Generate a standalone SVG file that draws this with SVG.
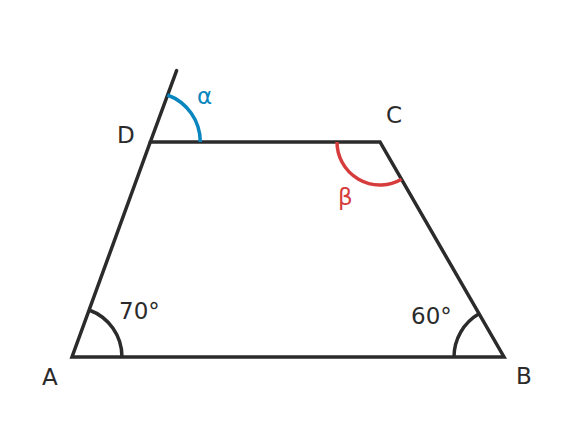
<svg xmlns="http://www.w3.org/2000/svg" width="576" height="430" viewBox="0 0 576 430">
<style>
.edge{fill:none;stroke:#2b2b2b;stroke-width:3.5;stroke-linecap:round;stroke-linejoin:miter}
.arc{fill:none;stroke-width:3.5}
.lbl{font-family:"DejaVu Sans",sans-serif;font-size:23px;fill:#2b2b2b}
</style>
<rect width="576" height="430" fill="#ffffff"/>
<g id="connectors">
<path class="edge" d="M72,357 L504,357 L380,142 L150.3,142 Z"/>
<path class="edge" d="M150.3,142 L176.6,70.6"/>
</g>
<g id="arcs">
<path class="arc" stroke="#2b2b2b" d="M122,357 A50,50 0 0 0 89.1,310"/>
<path class="arc" stroke="#2b2b2b" d="M454,357 A50,50 0 0 1 479,313.7"/>
<path class="arc" stroke="#0a86bf" d="M200.3,142 A50,50 0 0 0 167.4,95"/>
<path class="arc" stroke="#d63c3c" d="M337,142 A43,43 0 0 0 401.5,179.2"/>
</g>
<g id="node-A"><text class="lbl" x="42" y="385">A</text></g>
<g id="node-B"><text class="lbl" x="516" y="384">B</text></g>
<g id="node-C"><text class="lbl" x="386" y="123">C</text></g>
<g id="node-D"><text class="lbl" x="117" y="143">D</text></g>
<g id="label-70"><text class="lbl" x="119" y="319">70°</text></g>
<g id="label-60"><text class="lbl" x="411" y="324">60°</text></g>
<g id="label-alpha"><text class="lbl" x="197" y="104" style="fill:#0a86bf">α</text></g>
<g id="label-beta"><text class="lbl" x="338" y="205" style="fill:#d63c3c">β</text></g>
</svg>
